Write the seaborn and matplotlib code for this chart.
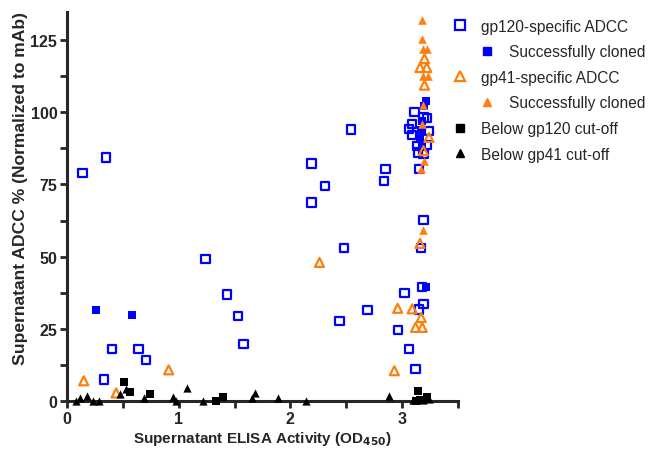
import pandas as pd
import numpy as np
import matplotlib
matplotlib.use("Agg")
import matplotlib.pyplot as plt
import seaborn as sns
from matplotlib.lines import Line2D
from matplotlib.ticker import MultipleLocator, FuncFormatter
from matplotlib.offsetbox import DrawingArea

# gp120-specific ADCC (open blue squares)
gp120_x = [0.14, 0.35, 1.24, 1.43, 1.53, 1.58, 0.40, 0.64, 0.71, 0.33,
           2.19, 2.19, 2.31, 2.54, 2.85, 2.84, 2.48, 2.44, 2.69, 3.02,
           2.96, 3.06, 3.12, 3.15, 3.19, 3.18, 3.17, 3.19, 3.11, 3.19,
           3.22, 3.09, 3.06, 3.09, 3.24, 3.13, 3.22, 3.14, 3.19, 3.15]
gp120_y = [79.0, 84.3, 49.2, 36.9, 29.5, 19.8, 18.0, 18.0, 14.1, 7.4,
           82.3, 68.7, 74.5, 94.0, 80.3, 76.3, 53.0, 27.7, 31.6, 37.5,
           24.5, 18.0, 11.1, 31.7, 33.5, 39.5, 53.0, 62.7, 100.0, 98.2,
           98.0, 95.9, 94.2, 92.1, 93.6, 88.4, 88.6, 86.1, 85.5, 80.3]

# gp120 successfully cloned (filled blue squares)
gp120_cl_x = [0.26, 0.58, 3.21, 3.20, 3.18, 3.17, 3.16, 3.18, 3.21]
gp120_cl_y = [31.5, 29.7, 104.0, 102.2, 97.0, 94.0, 91.0, 88.0, 39.5]

# gp41-specific ADCC (open orange triangles)
gp41_x = [0.15, 0.44, 0.91, 2.26, 2.96, 3.09, 3.17, 3.12, 3.18, 2.93,
          3.16, 3.16, 3.20, 3.22, 3.20, 3.24, 3.19]
gp41_y = [7.0, 2.8, 10.8, 48.0, 32.1, 31.9, 28.9, 25.5, 25.5, 10.5,
          54.6, 115.5, 118.6, 115.5, 109.4, 91.3, 86.7]

# gp41 successfully cloned (filled orange triangles)
gp41_cl_x = [3.18, 3.18, 3.19, 3.22, 3.19, 3.23, 3.18, 3.20, 3.17, 3.19, 3.19]
gp41_cl_y = [132.0, 125.5, 122.0, 122.0, 112.4, 112.4, 96.0, 83.2, 80.3, 59.3, 102.5]

# below cut-off (black)
low120_x = [0.51, 0.56, 0.74, 1.33, 1.40, 3.14, 3.22, 3.12, 3.16]
low120_y = [6.7, 3.0, 2.4, 0.0, 1.3, 3.6, 1.3, 0.0, 0.3]
low41_x = [0.08, 0.12, 0.18, 0.23, 0.29, 0.47, 0.53, 0.69, 0.95, 0.98,
           1.07, 1.22, 1.68, 1.66, 1.89, 2.14, 2.88, 3.10, 3.19, 3.24]
low41_y = [0.0, 0.9, 1.6, 0.0, 0.0, 2.4, 4.2, 0.9, 1.3, 0.0,
           4.4, 0.0, 2.7, 0.9, 0.9, 0.0, 1.6, 0.5, 0.5, 0.7]

labels = ["gp120-specific ADCC", "Successfully cloned", "gp41-specific ADCC",
          "Successfully cloned", "Below gp120 cut-off", "Below gp41 cut-off"]

BLUE = "#0000ff"
ORANGE = "#ff7f0e"

sns.set_style("ticks")
plt.rcParams["font.family"] = ["Liberation Sans", "DejaVu Sans"]

fig = plt.figure(figsize=(6.48, 4.52), dpi=100)
ax = fig.add_axes([0.1034, 0.1106, 0.6034, 0.8604])

common = dict(ax=ax, legend=False, clip_on=False)
sns.scatterplot(x=gp120_x, y=gp120_y, marker="s", s=36, facecolor="none",
                edgecolor=BLUE, linewidth=1.6, zorder=3, **common)
sns.scatterplot(x=gp120_cl_x, y=gp120_cl_y, marker="s", s=36, color=BLUE,
                linewidth=0, zorder=4, **common)
sns.scatterplot(x=gp41_x, y=gp41_y, marker="^", s=42, facecolor="none",
                edgecolor=ORANGE, linewidth=1.6, zorder=5, **common)
sns.scatterplot(x=gp41_cl_x, y=gp41_cl_y, marker="^", s=38, color=ORANGE,
                linewidth=0, zorder=6, **common)
sns.scatterplot(x=low120_x, y=low120_y, marker="s", s=38, color="black",
                linewidth=0, zorder=7, **common)
sns.scatterplot(x=low41_x, y=low41_y, marker="^", s=35, color="black",
                linewidth=0, zorder=7, **common)

ax.set_xlim(0, 3.5)
ax.set_ylim(0, 134.7)
ax.xaxis.set_major_locator(MultipleLocator(0.5))
ax.xaxis.set_major_formatter(FuncFormatter(lambda v, p: f"{v:.0f}" if abs(v - round(v)) < 1e-6 else ""))
ax.yaxis.set_major_formatter(FuncFormatter(lambda v, p: f"{v:.0f}" if abs(v / 25 - round(v / 25)) < 1e-6 else ""))
ax.set_yticks(np.arange(0, 126, 12.5))

sns.despine(ax=ax)
for side in ["left", "bottom"]:
    ax.spines[side].set_linewidth(2.2)
ax.tick_params(axis="both", length=5, width=2, labelsize=11.5, pad=2)
for lab in ax.get_xticklabels() + ax.get_yticklabels():
    lab.set_fontweight("bold")

ax.set_xlabel("Supernatant ELISA Activity (OD$_{\\mathbf{450}}$)", fontsize=11.0,
              fontweight="bold", labelpad=2)
ax.set_ylabel("Supernatant ADCC % (Normalized to mAb)", fontsize=12.6,
              fontweight="bold")
ax.yaxis.set_label_coords(-0.10, 0.548)

handles = [
    Line2D([], [], ls="", marker="s", ms=7, mfc="none", mec=BLUE, mew=1.6),
    Line2D([], [], ls="", marker="s", ms=6, color=BLUE),
    Line2D([], [], ls="", marker="^", ms=7, mfc="none", mec=ORANGE, mew=1.6),
    Line2D([], [], ls="", marker="^", ms=6, color=ORANGE),
    Line2D([], [], ls="", marker="s", ms=6, color="black"),
    Line2D([], [], ls="", marker="^", ms=6, color="black"),
]
leg = ax.legend(handles, labels, loc="upper left", bbox_to_anchor=(0.972, 0.995),
                frameon=False, fontsize=11.2, handlelength=1.0, handletextpad=0.9,
                labelspacing=0.68, borderaxespad=0, borderpad=0.3)

# indent the "Successfully cloned" rows
rows = leg._legend_handle_box.get_children()[0].get_children()
for i in (1, 3):
    rows[i]._children.insert(0, DrawingArea(10, 0))

fig.savefig("out.png", dpi=100)
